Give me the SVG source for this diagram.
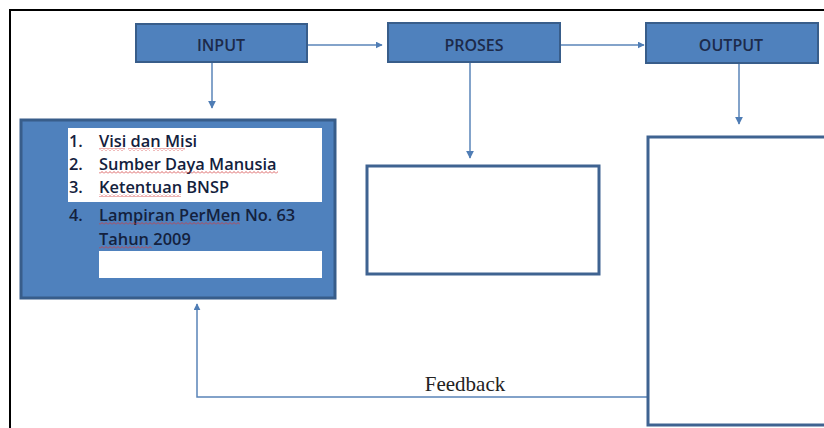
<svg xmlns="http://www.w3.org/2000/svg" width="824" height="428" viewBox="0 0 824 428">
<style>
.hdr{fill:#4f81bd;stroke:#385d8a;stroke-width:2}
.hdrt{font-family:"Open Sans",Lato,sans-serif;font-size:16px;font-weight:600;fill:#1c2a4a;text-anchor:middle}
.box{fill:#ffffff;stroke:#3f6391;stroke-width:3}
.conn{stroke:#5a84b8;stroke-width:1.5;fill:none}
.li{font-family:"Open Sans",Lato,sans-serif;font-size:16.4px;font-weight:600;fill:#14213d}
.wav{fill:url(#wavy)}
</style>
<defs>
<marker id="ah" viewBox="0 0 10 10" refX="9" refY="5" markerWidth="7" markerHeight="7" markerUnits="userSpaceOnUse" orient="auto">
<path d="M0 0 L10 5 L0 10 z" fill="#4f7db5"/>
</marker>
<marker id="ahs" viewBox="0 0 10 10" refX="9" refY="5" markerWidth="8" markerHeight="8" markerUnits="userSpaceOnUse" orient="auto">
<path d="M0 0 L10 5 L0 10 z" fill="#4f7db5"/>
</marker>
<pattern id="wavy" width="4" height="3" patternUnits="userSpaceOnUse">
<path d="M0 2.5 L2 0.5 L4 2.5" stroke="#d23c3c" stroke-width="0.8" fill="none"/>
</pattern>
</defs>
<rect width="824" height="428" fill="#ffffff"/>
<g id="frame">
<path d="M10 428 V10 H824" fill="none" stroke="#000000" stroke-width="2"/>
</g>
<g id="connectors">
<line class="conn" x1="307" y1="45" x2="382" y2="45" marker-end="url(#ah)"/>
<line class="conn" x1="560" y1="45" x2="644" y2="45" marker-end="url(#ah)"/>
<line class="conn" x1="212" y1="62" x2="212" y2="108" marker-end="url(#ahs)"/>
<line class="conn" x1="470" y1="62" x2="470" y2="158" marker-end="url(#ahs)"/>
<line class="conn" x1="739" y1="63" x2="739" y2="124" marker-end="url(#ahs)"/>
<path class="conn" d="M652 397 H197 V304" marker-end="url(#ah)"/>
</g>
<g id="input">
<rect class="hdr" x="136" y="24" width="171" height="38"/>
<text class="hdrt" x="221" y="51">INPUT</text>
</g>
<g id="proses">
<rect class="hdr" x="388" y="23" width="172" height="39"/>
<text class="hdrt" x="474" y="51">PROSES</text>
</g>
<g id="output">
<rect class="hdr" x="646" y="23" width="172" height="40"/>
<text class="hdrt" x="731" y="51">OUTPUT</text>
</g>
<g id="input-list">
<rect x="21" y="120" width="314" height="178" fill="#4f81bd" stroke="#385d8a" stroke-width="3"/>
<rect x="68" y="128" width="254" height="74" fill="#ffffff"/>
<rect x="99" y="251" width="223" height="27" fill="#ffffff"/>
<text class="li" x="69" y="147">1.</text>
<text class="li" x="99" y="147">Visi dan Misi</text>
<text class="li" x="69" y="170">2.</text>
<text class="li" x="99" y="170">Sumber Daya Manusia</text>
<text class="li" x="69" y="193">3.</text>
<text class="li" x="99" y="193">Ketentuan BNSP</text>
<text class="li" x="69" y="221">4.</text>
<text class="li" x="99" y="221">Lampiran PerMen No. 63</text>
<text class="li" x="99" y="245">Tahun 2009</text>
<rect class="wav" x="99" y="148" width="26" height="3"/>
<rect class="wav" x="128" y="148" width="22" height="3"/>
<rect class="wav" x="153" y="148" width="32" height="3"/>
<rect class="wav" x="99" y="171" width="179" height="3"/>
<rect class="wav" x="99" y="194" width="82" height="3"/>
<rect class="wav" x="99" y="222" width="141" height="3"/>
<rect class="wav" x="99" y="246" width="53" height="3"/>
</g>
<g id="proses-box">
<rect class="box" x="367" y="166" width="232" height="108"/>
</g>
<g id="output-box">
<rect class="box" x="648" y="137" width="190" height="288"/>
</g>
<g id="feedback-label">
<text x="465" y="391" font-family="'Liberation Serif',serif" font-size="21" fill="#222222" text-anchor="middle">Feedback</text>
</g>
</svg>
